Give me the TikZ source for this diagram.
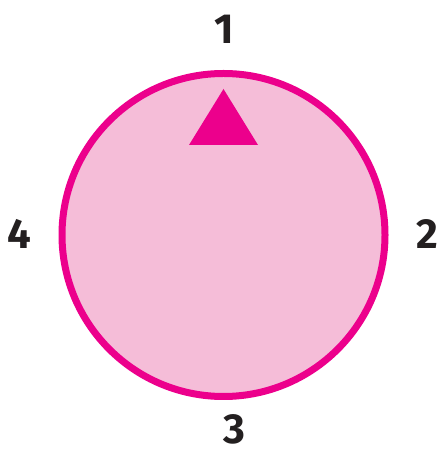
\documentclass[tikz,border=0pt]{standalone}
\usepackage{fontspec}
\setmainfont{Fira Sans}
\definecolor{mag}{HTML}{EC008C}
\definecolor{lpink}{HTML}{F5BDD8}
\definecolor{ink}{HTML}{231F20}
\begin{document}
\begin{tikzpicture}[x=1pt,y=1pt,
  lbl/.style={text=ink,font=\fontsize{42}{42}\selectfont\bfseries,inner sep=0pt,anchor=center}]
\useasboundingbox (0,0) rectangle (440,454);
\node[circle,draw=mag,fill=lpink,line width=7pt,minimum size=323pt,inner sep=0pt] (dial) at (223.5,219) {};
\coordinate (apex) at (223.5,365);
\coordinate (bl) at (189,309);
\coordinate (br) at (258,309);
\fill[mag] (apex) -- (br) -- (bl) -- cycle;
\node[lbl] (n1) at (224,425) {1};
\node[lbl] (n2) at (427,220) {2};
\node[lbl] (n3) at (234,25) {3};
\node[lbl] (n4) at (19.5,220) {4};
\end{tikzpicture}
\end{document}
